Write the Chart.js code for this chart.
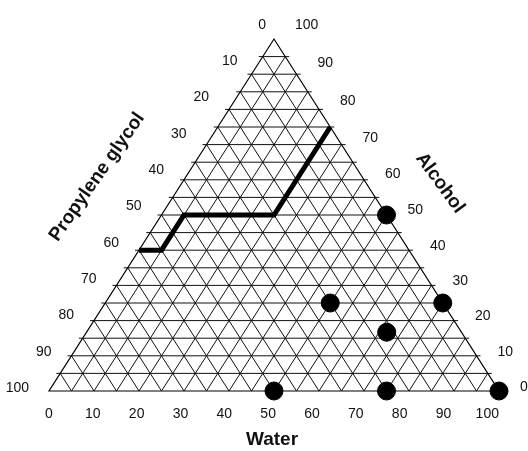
<!DOCTYPE html>
<html>
<head>
<meta charset="utf-8">
<script src="https://cdn.jsdelivr.net/npm/chart.js@4/dist/chart.umd.min.js"></script>
<style>
  body { margin: 0; background: #fff; }
  canvas { display: block; }
</style>
</head>
<body>
<canvas id="chart" width="528" height="451"></canvas>
<script>
// ternary data: water + alcohol + propylene glycol = 100
const tickValues = [0, 10, 20, 30, 40, 50, 60, 70, 80, 90, 100];
const waterTickLabels = ["0", "10", "20", "30", "40", "50", "60", "70", "80", "90", "100"];
const glycolTickLabels = ["0", "10", "20", "30", "40", "50", "60", "70", "80", "90", "100"];
const alcoholTickLabels = ["0", "10", "20", "30", "40", "50", "60", "70", "80", "90", "100"];

const gridSteps = [5, 10, 15, 20, 25, 30, 35, 40, 45, 50, 55, 60, 65, 70, 75, 80, 85, 90, 95];

// filled circles
const dotWater = [50, 50, 75, 66.7, 50, 75, 100];
const dotAlcohol = [50, 25, 25, 16.7, 0, 0, 0];

// thick boundary line
const lineWater = [25, 25, 5, 5, 0];
const lineAlcohol = [75, 50, 50, 40, 40];

// water/alcohol -> cartesian (x along base, y up)
function toXY(w, a) {
  return { x: w + a / 2, y: a };
}

const dotPoints = dotWater.map((w, i) => toXY(w, dotAlcohol[i]));
const linePoints = lineWater.map((w, i) => toXY(w, lineAlcohol[i]));

const ternaryPlugin = {
  id: "ternary",
  beforeDatasetsDraw(chart) {
    const ctx = chart.ctx;
    const sx = chart.scales.x, sy = chart.scales.y;
    const px = (p) => [sx.getPixelForValue(p.x), sy.getPixelForValue(p.y)];

    const seg = (p1, p2, ext) => {
      let [x1, y1] = px(p1);
      let [x2, y2] = px(p2);
      if (ext) {
        const len = Math.hypot(x2 - x1, y2 - y1);
        const ux = (x2 - x1) / len, uy = (y2 - y1) / len;
        x1 -= ux * ext; y1 -= uy * ext;
        x2 += ux * ext; y2 += uy * ext;
      }
      ctx.beginPath();
      ctx.moveTo(x1, y1);
      ctx.lineTo(x2, y2);
      ctx.stroke();
    };

    ctx.save();
    ctx.strokeStyle = "#111";
    ctx.lineWidth = 1;
    gridSteps.forEach((v) => {
      // constant alcohol (horizontal)
      seg(toXY(0, v), toXY(100 - v, v), 4);
      // constant water
      seg(toXY(v, 0), toXY(v, 100 - v), 0);
      // constant propylene glycol
      seg(toXY(100 - v, 0), toXY(0, 100 - v), 0);
    });

    // outline
    ctx.lineWidth = 1.2;
    ctx.strokeStyle = "#000";
    ctx.beginPath();
    const a = px(toXY(0, 0)), b = px(toXY(100, 0)), c = px(toXY(0, 100));
    ctx.moveTo(a[0], a[1]);
    ctx.lineTo(b[0], b[1]);
    ctx.lineTo(c[0], c[1]);
    ctx.closePath();
    ctx.stroke();
    ctx.restore();
  },
  afterDraw(chart) {
    const ctx = chart.ctx;
    const sx = chart.scales.x, sy = chart.scales.y;
    ctx.save();
    ctx.fillStyle = "#111";
    ctx.font = "14px 'Liberation Sans', Arial, sans-serif";
    ctx.textBaseline = "middle";

    // water along the base
    ctx.textAlign = "center";
    tickValues.forEach((v, i) => {
      const x = sx.getPixelForValue(v * 0.974);
      const y = sy.getPixelForValue(0) + 23;
      ctx.fillText(waterTickLabels[i], x, y);
    });

    // propylene glycol along left edge (0 at top)
    ctx.textAlign = "right";
    tickValues.forEach((v, i) => {
      const p = toXY(0, 100 - v);
      const x = sx.getPixelForValue(p.x) - 20 + 12 * Math.max(0, 1 - v / 20);
      const y = sy.getPixelForValue(p.y) - 14 + 11 * v / 100;
      ctx.fillText(glycolTickLabels[i], x, y);
    });

    // alcohol along right edge (0 at bottom)
    ctx.textAlign = "left";
    tickValues.forEach((v, i) => {
      const p = toXY(100 - v, v);
      const x = sx.getPixelForValue(p.x) + 21;
      const y = sy.getPixelForValue(p.y) - 4 - 10 * Math.pow(v / 100, 4);
      ctx.fillText(alcoholTickLabels[i], x, y);
    });

    // axis titles
    ctx.font = "bold 19px 'Liberation Sans', Arial, sans-serif";
    ctx.textAlign = "center";
    ctx.fillText("Water", 272, 440);

    ctx.save();
    ctx.translate(97, 177);
    ctx.rotate(-55 * Math.PI / 180);
    ctx.fillText("Propylene glycol", 0, 0);
    ctx.restore();

    ctx.save();
    ctx.translate(440, 183);
    ctx.rotate(54 * Math.PI / 180);
    ctx.fillText("Alcohol", 0, 0);
    ctx.restore();

    ctx.restore();
  }
};

new Chart(document.getElementById("chart"), {
  type: "scatter",
  data: {
    datasets: [
      {
        label: "Boundary",
        data: linePoints,
        showLine: true,
        borderColor: "#000",
        borderWidth: 5,
        pointRadius: 0,
        borderJoinStyle: "miter",
        borderCapStyle: "butt",
        clip: false
      },
      {
        label: "Samples",
        data: dotPoints,
        backgroundColor: "#000",
        borderColor: "#000",
        pointRadius: 9,
        clip: false
      }
    ]
  },
  options: {
    responsive: false,
    animation: false,
    layout: { padding: { left: 49, right: 29, top: 39, bottom: 60 } },
    scales: {
      x: { type: "linear", min: 0, max: 100, display: false },
      y: { type: "linear", min: 0, max: 100, display: false }
    },
    plugins: {
      legend: { display: false },
      tooltip: { enabled: false }
    }
  },
  plugins: [ternaryPlugin]
});
</script>
</body>
</html>
